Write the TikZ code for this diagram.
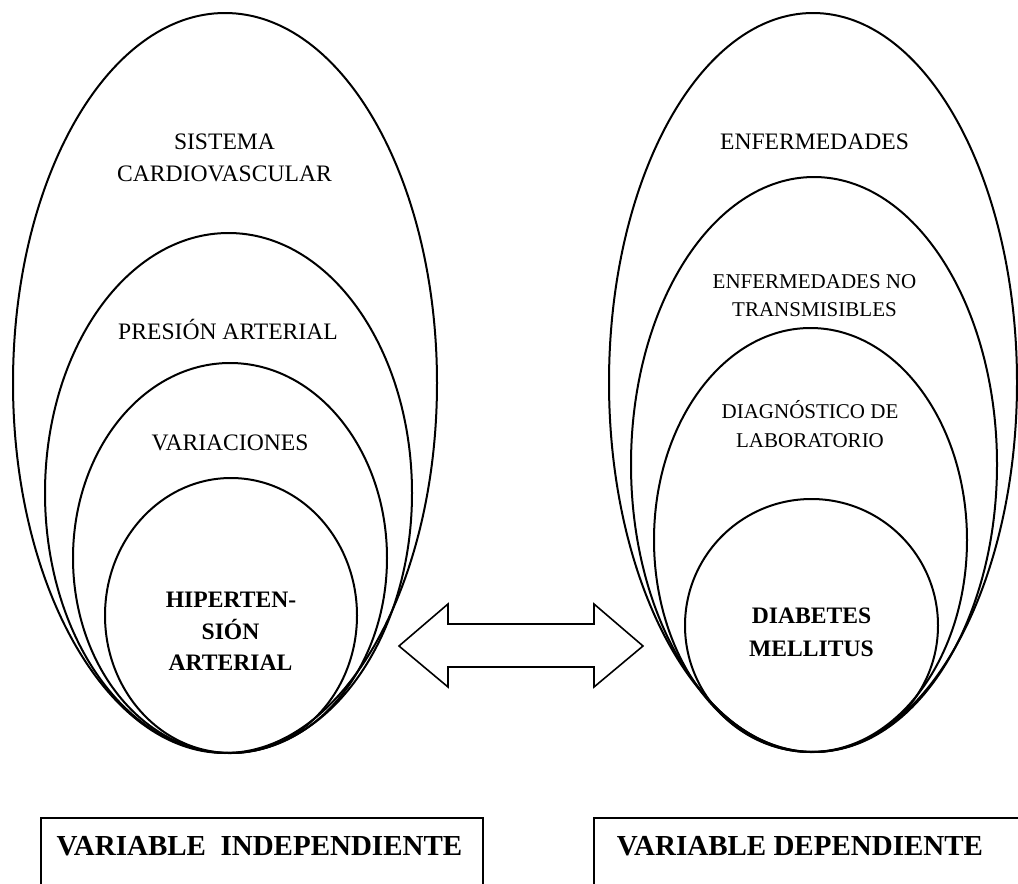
\documentclass[tikz,border=0pt]{standalone}
\usepackage{fontspec}
\setmainfont{Liberation Serif}
\usetikzlibrary{shapes.geometric}
\begin{document}
\begin{tikzpicture}[x=0.5pt,y=-0.5pt,
    ring/.style={draw,ellipse,line width=1pt,inner sep=0pt,outer sep=0pt},
    txt/.style={anchor=base,inner sep=0pt,font=\fontsize{11.8}{14}\selectfont},
    txtsm/.style={txt,font=\fontsize{10.5}{12.5}\selectfont},
    txtbf/.style={txt,font=\fontsize{11.8}{14}\selectfont\bfseries},
    boxtxt/.style={anchor=base,inner sep=0pt,font=\fontsize{14.5}{17}\selectfont\bfseries},
    varbox/.style={draw,line width=0.8pt,anchor=north west,inner sep=0pt,minimum height=60pt}]
  \useasboundingbox (0,0) rectangle (1018,884);
  \clip (0,0) rectangle (1018,884);
  %% left side
  \node[ring,minimum width=212pt,minimum height=370pt] (sistema) at (225,383) {};
  \node[ring,minimum width=183.5pt,minimum height=260pt] (presion) at (228.5,493) {};
  \node[ring,minimum width=157pt,minimum height=195pt] (variac) at (230,558) {};
  \node[ring,minimum width=126pt,minimum height=137.5pt] (hta) at (231,615.5) {};
  \node[txt] (sis1) at (224.5,149) {SISTEMA};
  \node[txt] (sis2) at (224.5,181) {CARDIOVASCULAR};
  \node[txt] (pre1) at (228,339) {PRESIÓN ARTERIAL};
  \node[txt] (var1) at (230,450) {VARIACIONES};
  \node[txtbf] (hta1) at (231,607) {HIPERTEN-};
  \node[txtbf] (hta2) at (230.5,639) {SIÓN};
  \node[txtbf] (hta3) at (230.5,670) {ARTERIAL};
  %% right side
  \node[ring,minimum width=204pt,minimum height=369.5pt] (enferm) at (813,382.5) {};
  \node[ring,minimum width=183pt,minimum height=287.5pt] (ent) at (814,464.5) {};
  \node[ring,minimum width=156.5pt,minimum height=212pt] (diag) at (810.5,540) {};
  \node[ring,minimum width=126.5pt,minimum height=126.5pt] (dm) at (811.5,625.5) {};
  \node[txt] (enf1) at (814.5,149) {ENFERMEDADES};
  \node[txtsm] (ent1) at (814.5,288) {ENFERMEDADES NO};
  \node[txtsm] (ent2) at (814.5,316) {TRANSMISIBLES};
  \node[txtsm] (diag1) at (810,418) {DIAGNÓSTICO DE};
  \node[txtsm] (diag2) at (810,447) {LABORATORIO};
  \node[txtbf] (dm1) at (811.5,623) {DIABETES};
  \node[txtbf] (dm2) at (811.5,656) {MELLITUS};
  %% arrow
  \draw[line width=0.8pt,line join=miter] (399,646) -- (448,604) -- (448,624) -- (594,624)
    -- (594,604) -- (643,646) -- (594,687) -- (594,667) -- (448,667) -- (448,687) -- cycle;
  %% boxes
  \node[varbox,minimum width=221pt] (indep) at (40,817) {};
  \node[varbox,minimum width=220pt] (dep) at (593,817) {};
  \node[boxtxt] (indep1) at (259.5,855) {VARIABLE\ \ INDEPENDIENTE};
  \node[boxtxt] (dep1) at (800,855) {VARIABLE DEPENDIENTE};
\end{tikzpicture}
\end{document}
